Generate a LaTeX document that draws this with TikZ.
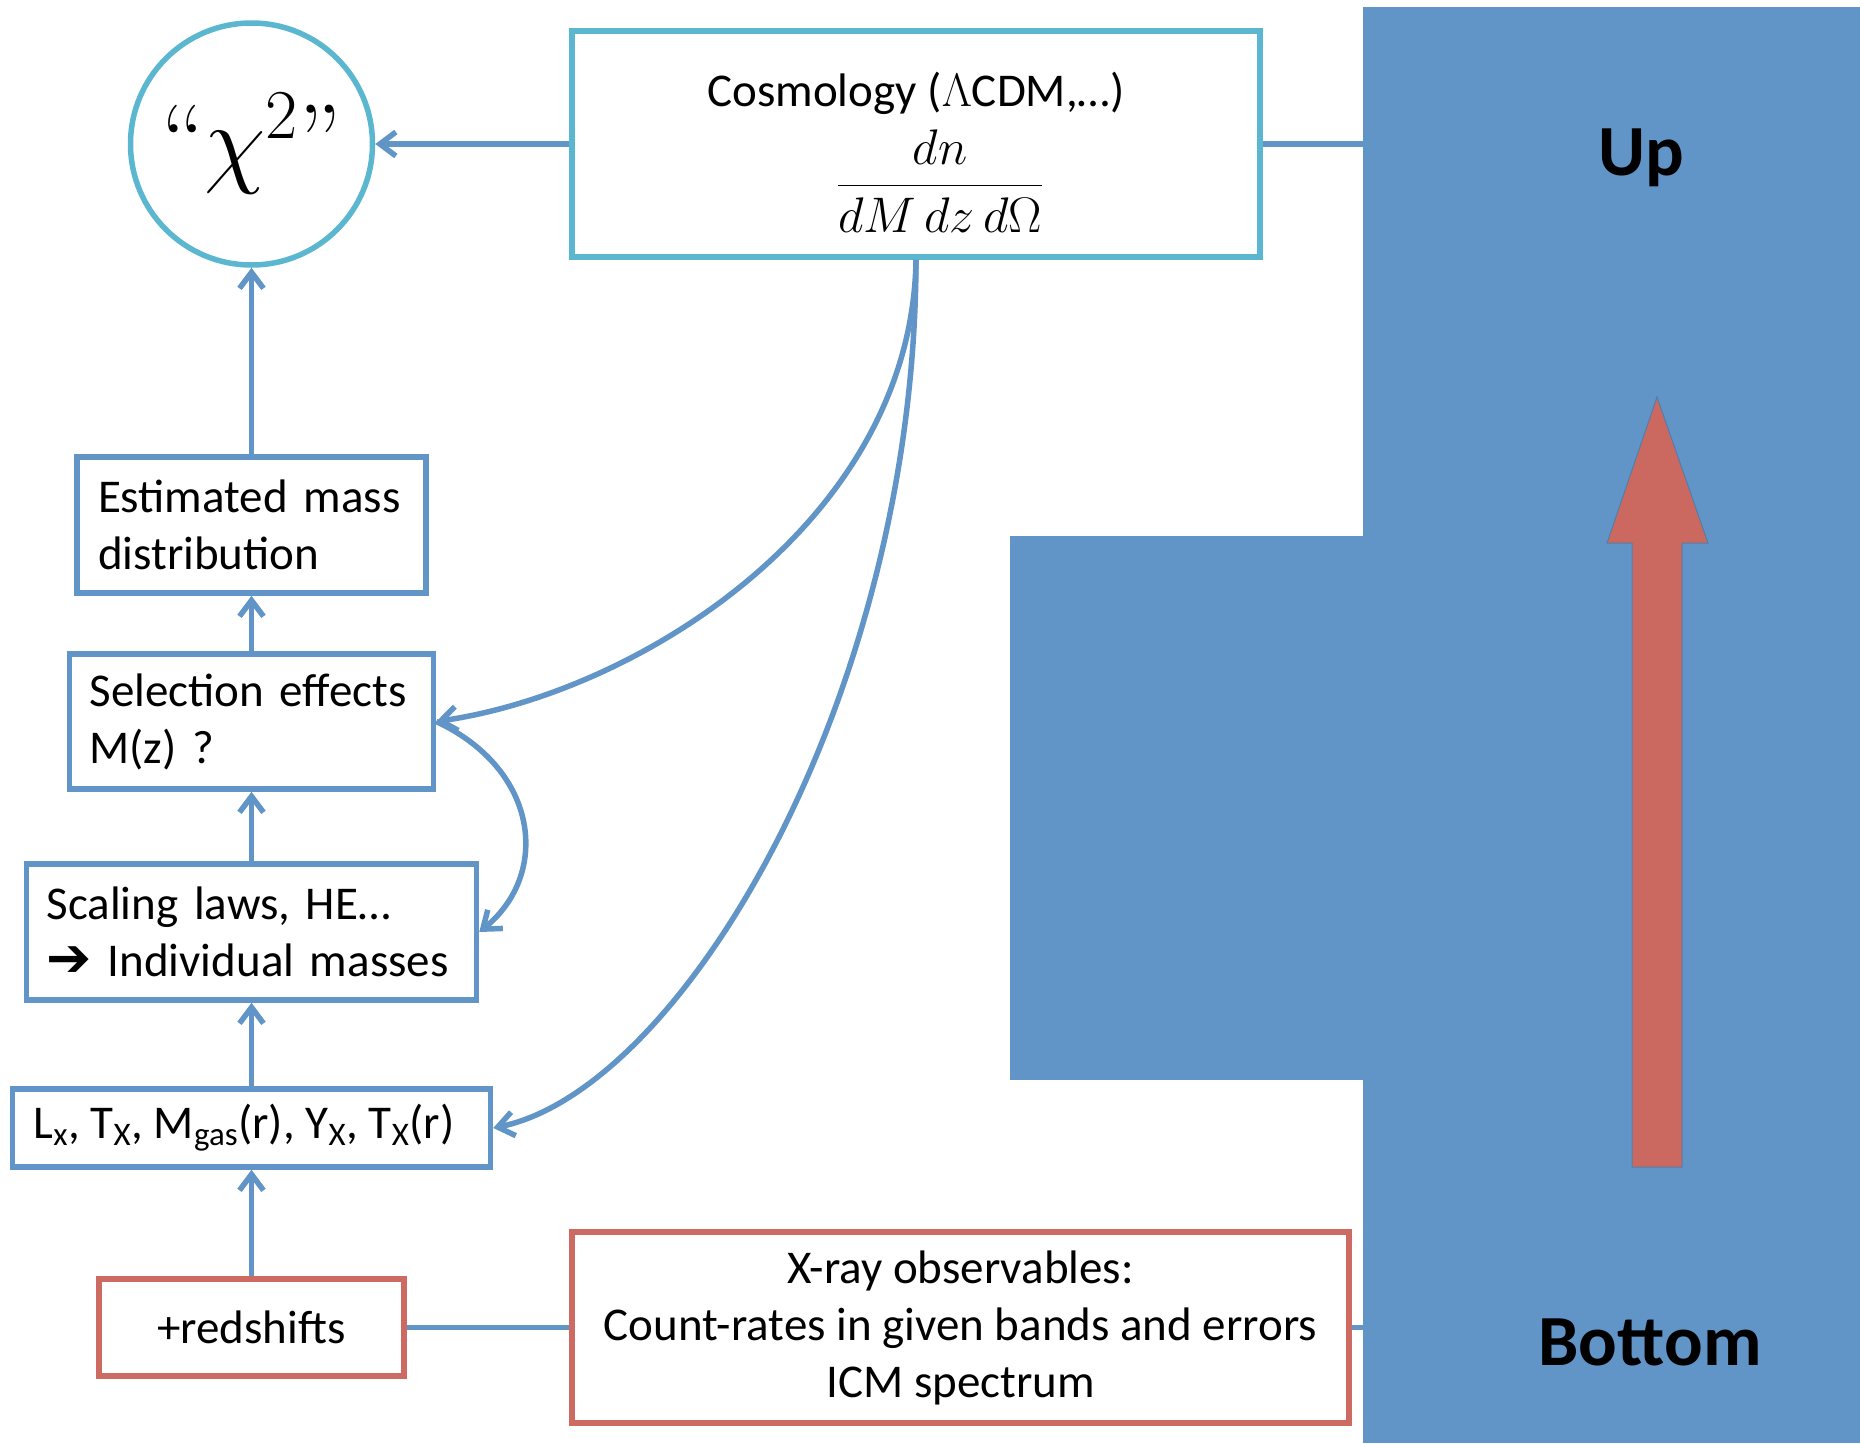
\RequirePackage{fix-cm}
\documentclass[tikz,border=0pt]{standalone}
\usepackage[no-math]{fontspec}
\newfontfamily\calib{Carlito}
\newfontfamily\dejavu{DejaVu Sans}
\usetikzlibrary{arrows.meta}
\definecolor{bl}{HTML}{6195C8}
\definecolor{cy}{HTML}{5BB7D0}
\definecolor{rd}{HTML}{CD6A62}
\definecolor{ra}{HTML}{CB6860}
\begin{document}
\begin{tikzpicture}[x=1pt,y=-1pt,
  txt/.style={font=\calib\fontsize{47}{57}\selectfont},
  bbox/.style={txt, draw=bl, line width=5.5pt, align=left, inner ysep=0pt},
  rbox/.style={txt, draw=rd, line width=5.5pt, align=center, inner sep=0pt},
  cbox/.style={draw=cy, line width=5.5pt, inner sep=0pt},
  blk/.style={fill=bl, inner sep=0pt},
  big/.style={font=\calib\bfseries\fontsize{72}{80}\selectfont, anchor=base},
  plain/.style={draw=bl, line width=5.5pt},
  conn/.style={plain, -{Straight Barb[length=16pt,width=24pt]}}]
\useasboundingbox (0,0) rectangle (1860,1443);

% blue blocks
\node[blk, minimum width=497pt, minimum height=1436pt] (rightrect) at (1611.5,725) {};
\node[blk, minimum width=353pt, minimum height=544pt] (leftrect) at (1186.5,808) {};
\node[big] (up) at (1641,175) {Up};
\node[big] (bottom) at (1650,1365) {Bottom};
\filldraw[fill=ra, draw=bl!85!black, line width=1pt]
  (1632,1167) -- (1632,543) -- (1607,543) -- (1657,397) -- (1708,543)
  -- (1682,543) -- (1682,1167) -- cycle;

% chi^2 circle
\node[circle, draw=cy, line width=5.5pt, minimum size=242pt, inner sep=0pt,
      font=\fontsize{100}{110}\selectfont] (chi) at (251.5,144) {“$\chi^{2}$”};

% cosmology box
\node[cbox, minimum width=688pt, minimum height=226pt] (cosmo) at (916,144) {};
\node[txt, anchor=base] (ctitle) at (916,106) {Cosmology ($\Lambda$CDM,…)};
\node[font=\fontsize{50}{60}\selectfont, anchor=base] (frac) at (940,198)
  {$\displaystyle\frac{dn}{dM\,dz\,d\Omega}$};

% left column
\node[bbox, minimum height=136pt, text width=307pt, inner xsep=21pt] (est) at (251.5,525)
  {Estimated mass\\distribution};
\node[bbox, minimum height=135pt, text width=324pt, inner xsep=20pt] (sel) at (251.5,721.5)
  {\mbox{Selection effects}\\M(z) ?};
\node[bbox, minimum height=136pt, text width=410pt, inner xsep=20pt] (scal) at (251.5,932)
  {Scaling laws, HE…\\\mbox{{\dejavu\bfseries\fontsize{54}{57}\selectfont ➔}\hspace{16pt}Individual masses}};
\node[bbox, minimum height=78pt, text width=436pt, inner xsep=21pt] (lx) at (251.5,1128)
  {\spaceskip=11pt\mbox{L\textsubscript{x}, T\textsubscript{X}, M\textsubscript{gas}(r), Y\textsubscript{X}, T\textsubscript{X}(r)}};
\node[rbox, minimum width=305pt, minimum height=97pt] (red) at (251.5,1327.5) {+redshifts};
\node[rbox, minimum width=777pt, minimum height=191pt] (xray) at (960.5,1327.5)
  {X-ray observables:\\Count-rates in given bands and errors\\ICM spectrum};

% connectors
\draw[conn] (cosmo.west) -- (chi.east);
\draw[plain] (cosmo.east) -- (cosmo.east -| rightrect.west);
\draw[conn] (est.north) -- (chi.south);
\draw[conn] (sel.north) -- (est.south);
\draw[conn] (scal.north) -- (sel.south);
\draw[conn] (lx.north) -- (scal.south);
\draw[conn] (red.north) -- (lx.south);
\draw[plain] (red.east) -- (xray.west);
\draw[plain] (xray.east) -- (xray.east -| rightrect.west);
\draw[conn] (cosmo.south) .. controls (912,520) and (640,692) .. (sel.east);
\draw[conn] (cosmo.south) .. controls (915,700) and (680,1090) .. (lx.east);
\draw[conn] (sel.east) .. controls (540,770) and (550,875) .. (scal.east);
\end{tikzpicture}
\end{document}
